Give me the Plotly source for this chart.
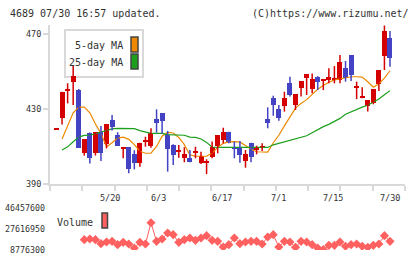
import plotly.graph_objects as go

# ---- data ----
opens = [419.0, 425.4, 440.0, 444.6, 440.1, 406.4, 417.4, 406.4, 417.6, 411.3,
         424.1, 416.1, 409.0, 409.6, 406.0, 401.4, 412.9, 410.4, 424.7, 427.7,
         416.1, 410.8, 407.2, 403.7, 404.0, 406.9, 401.4, 401.6, 404.2, 410.4,
         413.5, 417.9, 409.9, 409.6, 402.4, 412.0, 408.6, 409.3, 424.7, 436.0,
         430.0, 431.6, 444.0, 432.1, 441.4, 446.7, 440.5, 447.2, 445.0, 445.5,
         445.9, 445.5, 451.7, 458.8, 441.5, 435.7, 431.8, 433.0, 443.2, 458.4,
         467.7]
highs = [419.0, 439.2, 443.7, 452.9, 440.7, 414.0, 417.5, 417.6, 420.9, 422.0,
         426.8, 417.6, 409.6, 409.6, 408.0, 412.0, 415.2, 419.7, 429.8, 427.7,
         418.3, 411.2, 410.8, 409.6, 408.1, 409.9, 407.2, 403.2, 412.6, 416.1,
         420.0, 417.9, 412.6, 412.9, 408.1, 412.0, 410.4, 411.7, 430.9, 437.1,
         432.1, 439.2, 447.2, 438.0, 444.9, 448.7, 449.0, 447.5, 445.5, 451.7,
         452.9, 458.8, 455.6, 458.8, 444.6, 441.6, 434.8, 440.7, 450.8, 474.5,
         471.6]
lows = [419.0, 421.8, 433.0, 432.1, 409.4, 405.1, 401.0, 405.2, 402.3, 409.0,
        418.5, 410.4, 403.7, 395.7, 397.8, 399.2, 409.9, 409.4, 417.4, 417.0,
        396.6, 400.1, 404.0, 401.6, 401.6, 403.7, 400.7, 395.3, 403.7, 406.4,
        411.7, 411.7, 403.7, 401.4, 398.7, 401.6, 405.8, 407.6, 419.7, 426.4,
        423.8, 428.6, 436.6, 429.5, 436.6, 437.5, 438.4, 440.1, 440.1, 443.7,
        443.7, 443.7, 444.6, 444.9, 435.3, 435.7, 428.6, 432.5, 439.6, 450.8,
        452.6]
closes = [419.0, 439.2, 440.2, 447.6, 409.4, 414.0, 403.7, 417.6, 406.4, 422.0,
          420.6, 410.4, 409.1, 397.8, 401.0, 412.0, 413.0, 417.0, 422.7, 423.8,
          408.7, 405.5, 407.8, 406.0, 401.6, 407.0, 404.9, 402.2, 409.9, 416.1,
          417.9, 411.7, 409.0, 405.5, 406.0, 404.6, 408.8, 409.5, 422.7, 432.1,
          425.4, 436.0, 437.5, 438.0, 444.9, 448.7, 446.0, 444.6, 445.3, 446.9,
          446.1, 455.2, 446.7, 448.1, 441.7, 436.9, 434.8, 440.7, 450.8, 471.8,
          457.4]
ma5 = [None, 414.0, 421.5, 428.0, 431.0, 431.0, 428.0, 422.0, 417.0, 409.8,
       412.0, 414.5, 415.0, 413.8, 411.0, 407.5, 406.4, 406.4, 410.0, 415.5,
       417.5, 417.2, 414.8, 411.0, 405.5, 404.8, 404.8, 404.8, 406.5, 409.5,
       411.7, 412.5, 412.6, 412.3, 410.5, 408.5, 407.2, 406.9, 407.0, 412.0,
       416.0, 421.0, 425.5, 430.5, 433.0, 435.0, 437.8, 440.5, 442.5, 444.3,
       445.5, 446.2, 446.8, 447.2, 447.2, 447.0, 444.5, 441.6, 443.5, 446.5,
       450.4]
ma25 = [None, 408.1, 409.8, 412.5, 415.0, 415.9, 416.1, 416.8, 417.8, 418.8,
        419.4, 419.7, 419.7, 419.7, 419.5, 418.5, 417.6, 417.0, 417.0, 417.0,
        416.3, 416.1, 416.1, 416.0, 415.0, 414.9, 414.0, 412.2, 409.7, 409.5,
        409.5, 409.5, 409.5, 409.5, 409.5, 409.5, 409.4, 409.4, 409.5, 410.9,
        411.7, 412.4, 413.2, 414.1, 414.9, 415.7, 417.3, 419.0, 420.6, 421.8,
        423.5, 425.0, 427.2, 428.5, 430.0, 431.0, 432.0, 433.6, 435.3, 437.6,
        439.8]
volume = [None] * 5 + [
    18050000, 18650000, 18050000, 14460000, 15950000, 16550000, 13560000, 15660000, 14160000, 10570000,
    15660000, 14160000, 33270000, 16550000, 18650000, 24030000, 22530000, 15660000, 18050000, 19540000,
    17450000, 19540000, 21630000, 17450000, 16550000, 11470000, 13560000, 19540000, 14460000, 15950000,
    16550000, 16550000, 14160000, 20440000, 22530000, 11470000, 16550000, 15950000, 11170000, 16550000,
    15950000, 13560000, 10570000, 9070000, 12960000, 12960000, 15950000, 12070000, 13560000, 14160000,
    12070000, 11170000, 12960000, 14160000, 21630000, 16550000]
date_labels = ["5/20", "6/3", "6/17", "7/1", "7/15", "7/30"]
date_label_pos = [9.6, 18.4, 29.8, 40.0, 49.8, 60.0]
price_ticks = [390, 430, 470]
vol_ticks = [8776300, 27616950, 46457600]

W, H = 420, 259
RED = "#d40000"
BLUE = "#4343c3"
ORANGE = "#ee8800"
GREEN = "#1ca01c"
VOLC = "#ff6060"
AXC = "#d9d9d9"
TXT = "#333333"
FONT = "DejaVu Sans Mono"

idx = list(range(len(opens)))
up = [c >= o for o, c in zip(opens, closes)]

def px(x):
    return x / W

def py(y):
    return (H - y) / H

fig = go.Figure()

# moving averages (drawn below candles)
fig.add_trace(go.Scatter(x=idx, y=ma5, mode="lines", line=dict(color=ORANGE, width=1.2),
                         hoverinfo="skip", showlegend=False))
fig.add_trace(go.Scatter(x=idx, y=ma25, mode="lines", line=dict(color=GREEN, width=1.2),
                         hoverinfo="skip", showlegend=False))

# wicks
for flag, col in ((True, RED), (False, BLUE)):
    wx, wy = [], []
    for i in idx:
        if up[i] == flag:
            wx += [i, i, None]
            wy += [lows[i], highs[i], None]
    fig.add_trace(go.Scatter(x=wx, y=wy, mode="lines", line=dict(color=col, width=1.5),
                             hoverinfo="skip", showlegend=False))

# bodies
bases = [min(o, c) for o, c in zip(opens, closes)]
heights = [max(abs(c - o), 0.7) for o, c in zip(opens, closes)]
fig.add_trace(go.Bar(x=idx, y=heights, base=bases, width=0.9,
                     marker=dict(color=[RED if u else BLUE for u in up], line=dict(width=0)),
                     hoverinfo="skip", showlegend=False))

# volume
fig.add_trace(go.Scatter(x=idx, y=volume, mode="lines+markers", xaxis="x2", yaxis="y2",
                         line=dict(color=VOLC, width=1),
                         marker=dict(symbol="diamond", size=7, color=VOLC),
                         hoverinfo="skip", showlegend=False))

xr = [-1.17, 62.70]
xdom = [px(50), px(405)]
fig.update_layout(
    width=W, height=H, margin=dict(l=0, r=0, t=0, b=0),
    paper_bgcolor="white", plot_bgcolor="white", template="none",
    showlegend=False, bargap=0,
    xaxis=dict(domain=xdom, range=xr, anchor="y", showline=True, linecolor=AXC, linewidth=2,
               ticks="outside", ticklen=5, tickwidth=2, tickcolor=AXC,
               tickmode="linear", tick0=xr[0], dtick=(xr[1] - xr[0]) / 11 - 1e-6,
               showticklabels=False, showgrid=False, zeroline=False, automargin=False),
    yaxis=dict(domain=[py(184), py(25)], range=[390, 474.8], anchor="x",
               showline=True, linecolor=AXC, linewidth=2,
               ticks="outside", ticklen=5, tickwidth=2, tickcolor=AXC,
               tickvals=price_ticks, ticktext=[str(v) for v in price_ticks],
               tickfont=dict(family=FONT, size=8.5, color=TXT),
               showgrid=False, zeroline=False, automargin=False),
    xaxis2=dict(domain=xdom, range=xr, anchor="y2", visible=False, matches="x"),
    yaxis2=dict(domain=[py(250), py(208)], range=[vol_ticks[0], vol_ticks[-1]], anchor="x2",
                showline=False, ticks="", tickvals=vol_ticks, ticktext=[str(v) for v in vol_ticks],
                tickfont=dict(family=FONT, size=8.3, color=TXT), ticklabelstandoff=4,
                showgrid=False, zeroline=False, automargin=False),
)

ann = [
    dict(text="4689 07/30 16:57 updated.", x=px(8), y=py(13), xanchor="left", yanchor="middle",
         font=dict(family=FONT, size=10, color=TXT)),
    dict(text="(C)https://www.rizumu.net/", x=px(411), y=py(13), xanchor="right", yanchor="middle",
         font=dict(family=FONT, size=10, color=TXT)),
    dict(text="5-day MA", x=px(125), y=py(46), xanchor="right", yanchor="middle",
         font=dict(family=FONT, size=10, color=TXT)),
    dict(text="25-day MA", x=px(125), y=py(63), xanchor="right", yanchor="middle",
         font=dict(family=FONT, size=10, color=TXT)),
    dict(text="Volume", x=px(95), y=py(222), xanchor="right", yanchor="middle",
         font=dict(family=FONT, size=10, color=TXT)),
]
for a in ann:
    a.update(xref="paper", yref="paper", showarrow=False)
for lab, pos in zip(date_labels, date_label_pos):
    ann.append(dict(text=lab, x=pos, xref="x", y=py(198), yref="paper", xanchor="center",
                    yanchor="middle", showarrow=False, font=dict(family=FONT, size=8.5, color=TXT)))
fig.update_layout(annotations=ann)

shapes = [
    dict(type="rect", xref="paper", yref="paper", x0=px(65), x1=px(143), y0=py(77), y1=py(30),
         line=dict(color=AXC, width=2), fillcolor="white", layer="below"),
    dict(type="rect", xref="paper", yref="paper", x0=px(131), x1=px(138), y0=py(52), y1=py(37),
         line=dict(color="#444444", width=1.5), fillcolor=ORANGE),
    dict(type="rect", xref="paper", yref="paper", x0=px(131), x1=px(138), y0=py(69), y1=py(54),
         line=dict(color="#444444", width=1.5), fillcolor=GREEN),
    dict(type="rect", xref="paper", yref="paper", x0=px(102), x1=px(107.5), y0=py(228), y1=py(213),
         line=dict(color="#444444", width=1.5), fillcolor=VOLC),
]
fig.update_layout(shapes=shapes)

fig.write_html("out.html")
